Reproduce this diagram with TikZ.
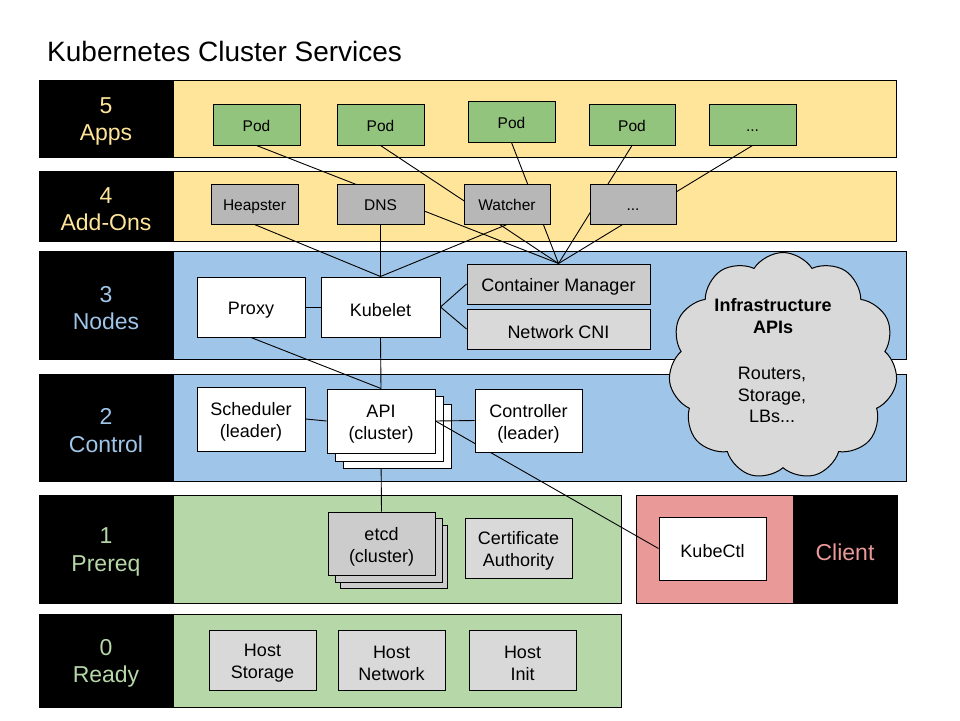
\documentclass[tikz,border=0pt]{standalone}
\usepackage{fontspec}
\setmainfont{Liberation Sans}
\usetikzlibrary{shapes.symbols}
\definecolor{yband}{HTML}{FFE599}
\definecolor{bband}{HTML}{9FC5E8}
\definecolor{gband}{HTML}{B6D7A8}
\definecolor{pinkc}{HTML}{EA9999}
\definecolor{podg}{HTML}{93C47D}
\definecolor{addg}{HTML}{B7B7B7}
\definecolor{midg}{HTML}{CCCCCC}
\definecolor{ltg}{HTML}{D9D9D9}
\pgfdeclarelayer{bands}
\pgfdeclarelayer{cards}
\pgfdeclarelayer{edges}
\pgfsetlayers{bands,cards,edges,main}
\newcommand\myrect[6]{%
  \node[#6, minimum width={#4pt-#2pt}, minimum height={#5pt-#3pt}] (#1) at ({(#2+#4)/2},{(#3+#5)/2}) {};}
\newcommand\mybox[7]{%
  \myrect{#1}{#2}{#3}{#4}{#5}{#6}%
  \node[#6, draw=none, fill=none] (#1-t) at ([yshift=-3pt]#1.center) {#7};}
\tikzset{
  box/.style={draw=black, line width=1pt, inner sep=0pt, align=center, font=\fontsize{18}{22}\selectfont},
  small/.style={box, font=\fontsize{15.5}{19}\selectfont, text height=10.5pt, text depth=3.5pt},
  pod/.style={small, fill=podg},
  addon/.style={small, fill=addg},
  wbox/.style={box, fill=white},
  gbox/.style={box, fill=ltg},
  cbox/.style={box, fill=midg},
  band/.style={draw=black, line width=1pt, inner sep=0pt},
  lbl/.style={fill=black, draw=black, line width=1pt, inner sep=0pt, align=center, font=\fontsize{23}{27.5}\selectfont},
  edge/.style={draw=black, line width=0.9pt},
}
\begin{document}
\begin{tikzpicture}[x=1pt,y=-1pt]
\useasboundingbox (0,0) rectangle (960,720);
\node[anchor=base west, inner sep=0pt, font=\fontsize{28}{32}\selectfont] (title) at (47,61) {Kubernetes Cluster Services};

\begin{pgfonlayer}{bands}
\fill[white] (0,0) rectangle (960,720);
\myrect{b5}{173}{80}{896}{157}{band, fill=yband}
\myrect{b4}{173}{171}{896}{241}{band, fill=yband}
\myrect{b3}{173}{251}{906}{359}{band, fill=bband}
\myrect{b2}{173}{374}{906}{481}{band, fill=bband}
\myrect{b1}{173}{495}{621}{603}{band, fill=gband}
\myrect{b0}{173}{614}{621}{707}{band, fill=gband}
\myrect{bc}{636}{495}{793}{603}{band, fill=pinkc}
\mybox{l5}{39}{80}{173}{157}{lbl, text=yband}{5\\Apps}
\mybox{l4}{39}{171}{173}{241}{lbl, text=yband}{4\\Add-Ons}
\mybox{l3}{39}{251}{173}{359}{lbl, text=bband}{3\\Nodes}
\mybox{l2}{39}{374}{173}{481}{lbl, text=bband}{2\\Control}
\mybox{l1}{39}{495}{173}{603}{lbl, text=gband}{1\\Prereq}
\mybox{l0}{39}{614}{173}{707}{lbl, text=gband}{0\\Ready}
\mybox{lc}{793}{495}{897}{603}{lbl, text=pinkc}{Client}
\end{pgfonlayer}

\begin{pgfonlayer}{cards}
\myrect{api3}{343}{404}{451}{468}{wbox}
\myrect{api2}{335}{396}{443}{461}{wbox}
\myrect{etcd3}{340}{525}{447}{588}{cbox}
\myrect{etcd2}{335}{518}{442}{582}{cbox}
\end{pgfonlayer}

% Apps
\mybox{pod1}{213}{104}{300}{145}{pod}{Pod}
\mybox{pod2}{337}{104}{424}{145}{pod}{Pod}
\mybox{pod3}{468}{101}{555}{142}{pod}{Pod}
\mybox{pod4}{589}{104}{675}{145}{pod}{Pod}
\mybox{pod5}{709}{104}{796}{145}{pod}{...}
% Add-ons
\mybox{heap}{211}{184}{298}{224}{addon}{Heapster}
\mybox{dns}{337}{184}{424}{224}{addon}{DNS}
\mybox{watch}{464}{184}{550}{224}{addon}{Watcher}
\mybox{addm}{590}{184}{676}{224}{addon}{...}
% Nodes
\mybox{proxy}{197}{277}{305}{337}{wbox}{Proxy}
\mybox{kubelet}{321}{277}{440}{337}{wbox}{Kubelet}
\mybox{cm}{467}{264}{650}{304}{cbox}{Container Manager}
\mybox{cni}{467}{309}{650}{349}{gbox}{Network CNI}
% Control
\mybox{sched}{197}{387}{305}{451}{wbox}{Scheduler\\(leader)}
\mybox{api}{327}{389}{435}{453}{wbox}{API\\(cluster)}
\mybox{ctrl}{475}{389}{582}{452}{wbox}{Controller\\(leader)}
% Prereq
\mybox{etcd}{328}{512}{435}{575}{cbox}{etcd\\(cluster)}
\mybox{ca}{465}{518}{572}{578}{gbox}{Certificate\\Authority}
% Ready
\mybox{hs}{209}{630}{316}{690}{gbox}{Host\\Storage}
\mybox{hn}{338}{630}{445}{690}{gbox}{Host\\Network}
\mybox{hi}{469}{630}{576}{690}{gbox}{Host\\Init}
% Client
\mybox{kubectl}{659}{517}{766}{580}{wbox}{KubeCtl}

% Cloud
\node[cloud, cloud puffs=11, cloud puff arc=115, aspect=1, draw=black, line width=1pt, fill=ltg, minimum width=229pt, minimum height=227pt, inner sep=0pt] (cloud) at (783,366) {};
\node[inner sep=0pt, align=center, font=\bfseries\fontsize{18}{22}\selectfont] (cloudt) at (773,316) {Infrastructure\\APIs};
\node[inner sep=0pt, align=center, font=\fontsize{18}{21.5}\selectfont] (cloudb) at (772,395) {Routers,\\Storage,\\LBs...};

\begin{pgfonlayer}{bands}
\draw[edge] (api.south) -- (etcd.north);
\end{pgfonlayer}
\begin{pgfonlayer}{edges}
\foreach \p in {pod1,pod2,pod3,pod4,pod5} \draw[edge] (\p.south) -- (cm.north);
\foreach \a in {heap,dns,watch} \draw[edge] (\a.south) -- (kubelet.north);
\draw[edge] (proxy.east) -- (kubelet.west);
\draw[edge] (kubelet.east) -- (cm.west);
\draw[edge] (kubelet.east) -- (cni.west);
\draw[edge] (proxy.south) -- (api.north);
\draw[edge] (kubelet.south) -- (api.north);
\draw[edge] (sched.east) -- (api.west);
\draw[edge] (api.east) -- (ctrl.west);
\draw[edge] (api.east) -- (kubectl.west);
\end{pgfonlayer}
\end{tikzpicture}
\end{document}
